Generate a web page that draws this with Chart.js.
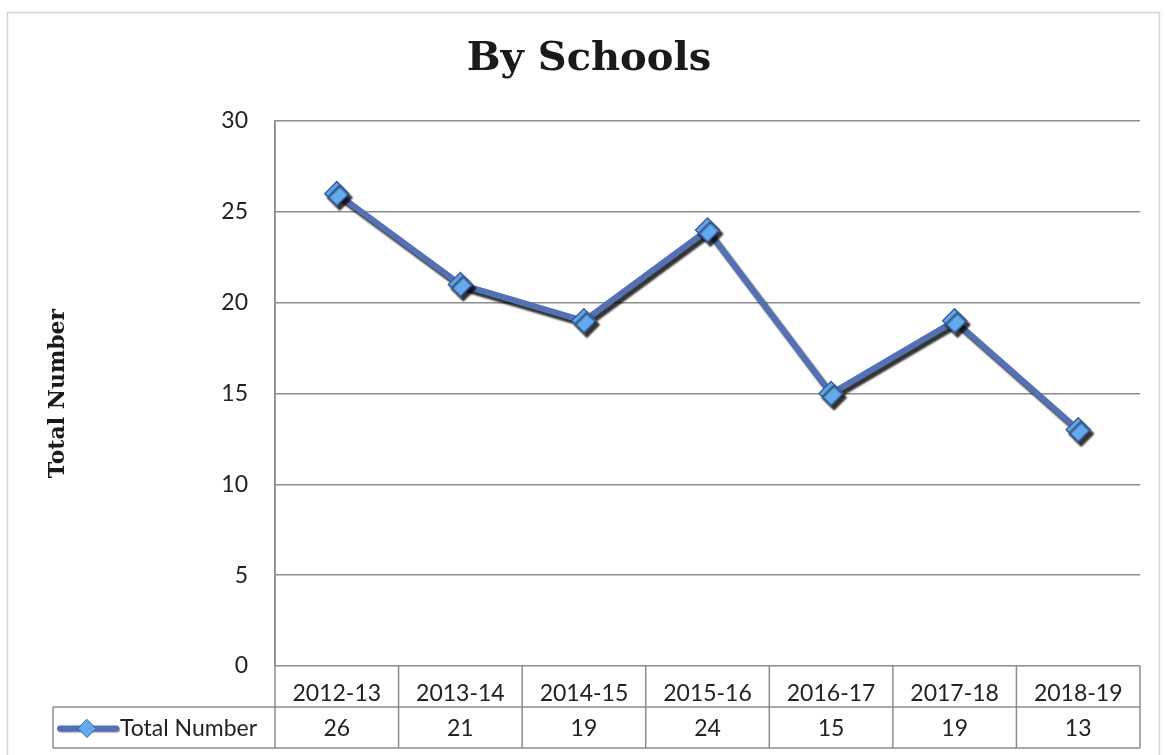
<!DOCTYPE html>
<html>
<head>
<meta charset="utf-8">
<script src="https://cdn.jsdelivr.net/npm/chart.js@4"></script>
<style>
  html, body { margin: 0; padding: 0; background: #ffffff; }
  canvas { display: block; }
</style>
</head>
<body>
<canvas id="c" width="1165" height="755"></canvas>
<script>
const chartTitle = 'By Schools';
const yAxisTitle = 'Total Number';
const seriesName = 'Total Number';
const categories = ['2012-13', '2013-14', '2014-15', '2015-16', '2016-17', '2017-18', '2018-19'];
const totalNumber = [26, 21, 19, 24, 15, 19, 13];
const yMin = 0;
const yMax = 30;
const yStep = 5;

const LINE_COLOR = '#5371B5';
const MARKER_FILL = '#63AAEE';
const MARKER_EDGE = '#3D5C9E';
const GRID_COLOR = '#8c8c8c';
const TEXT_COLOR = '#222222';
const LABEL_FONT = 'Lato, "Liberation Sans", sans-serif';

const shadowPlugin = {
  id: 'shadow',
  beforeDatasetDraw(chart) {
    const ctx = chart.ctx;
    ctx.save();
    ctx.shadowColor = 'rgba(0,0,0,0.8)';
    ctx.shadowOffsetX = 3;
    ctx.shadowOffsetY = 4;
    ctx.shadowBlur = 2;
  },
  afterDatasetDraw(chart) {
    chart.ctx.restore();
  }
};

const framePlugin = {
  id: 'frame',
  beforeDraw(chart) {
    const ctx = chart.ctx;
    ctx.save();
    ctx.fillStyle = '#ffffff';
    ctx.fillRect(0, 0, chart.width, chart.height);
    ctx.strokeStyle = '#d4d4d4';
    ctx.lineWidth = 1.5;
    ctx.strokeRect(7.5, 12.5, chart.width - 13, chart.height + 20);
    ctx.restore();
  }
};

const tablePlugin = {
  id: 'dataTable',
  afterDraw(chart) {
    const ctx = chart.ctx;
    const xs = chart.scales.x;
    const ca = chart.chartArea;
    const n = categories.length;
    const step = xs.getPixelForValue(1) - xs.getPixelForValue(0);
    const top = ca.bottom;
    const mid = xs.bottom;
    const bot = mid + 41;
    const legendLeft = 53;
    ctx.save();
    ctx.strokeStyle = GRID_COLOR;
    ctx.lineWidth = 1.5;
    const line = (x1, y1, x2, y2) => {
      ctx.beginPath(); ctx.moveTo(x1, y1); ctx.lineTo(x2, y2); ctx.stroke();
    };
    line(legendLeft, mid, ca.right, mid);
    line(legendLeft, bot, ca.right, bot);
    line(legendLeft, mid, legendLeft, bot);
    line(ca.left, ca.top, ca.left, bot);
    for (let i = 0; i < n; i++) {
      const x = xs.getPixelForValue(i) + step / 2;
      line(x, top, x, bot);
    }
    // values row
    ctx.fillStyle = TEXT_COLOR;
    ctx.font = '23px ' + LABEL_FONT;
    ctx.textAlign = 'center';
    ctx.textBaseline = 'middle';
    const rowY = (mid + bot) / 2 + 1;
    for (let i = 0; i < n; i++) {
      ctx.fillText(String(totalNumber[i]), xs.getPixelForValue(i), rowY);
    }
    // legend key
    const ly = rowY;
    ctx.shadowColor = 'rgba(0,0,0,0.45)';
    ctx.shadowOffsetX = 1; ctx.shadowOffsetY = 1; ctx.shadowBlur = 1;
    ctx.strokeStyle = LINE_COLOR;
    ctx.lineWidth = 6;
    ctx.lineCap = 'round';
    line(60, ly, 116, ly);
    ctx.shadowColor = 'transparent';
    ctx.beginPath();
    ctx.moveTo(87, ly - 9); ctx.lineTo(96, ly); ctx.lineTo(87, ly + 9); ctx.lineTo(78, ly);
    ctx.closePath();
    ctx.fillStyle = MARKER_FILL; ctx.fill();
    ctx.strokeStyle = MARKER_EDGE; ctx.lineWidth = 1; ctx.stroke();
    ctx.fillStyle = TEXT_COLOR;
    ctx.textAlign = 'left';
    ctx.fillText(seriesName, 120, ly);
    ctx.restore();
  }
};

new Chart(document.getElementById('c'), {
  type: 'line',
  data: {
    labels: categories,
    datasets: [{
      label: seriesName,
      data: totalNumber,
      borderColor: LINE_COLOR,
      borderWidth: 6,
      tension: 0,
      fill: false,
      pointStyle: 'rectRot',
      pointRadius: 12,
      pointHoverRadius: 12,
      pointBackgroundColor: MARKER_FILL,
      pointBorderColor: MARKER_EDGE,
      pointBorderWidth: 1.5
    }]
  },
  options: {
    responsive: false,
    animation: false,
    devicePixelRatio: 1,
    layout: { padding: { top: 12, left: 38, right: 25, bottom: 48 } },
    plugins: {
      legend: { display: false },
      tooltip: { enabled: false },
      title: {
        display: true,
        text: chartTitle,
        color: '#1a1a1a',
        font: { family: '"DejaVu Serif", serif', size: 40, weight: 'bold', lineHeight: 1.2 },
        padding: { top: 24, bottom: 37 }
      }
    },
    scales: {
      x: {
        type: 'category',
        offset: true,
        grid: { display: false },
        border: { display: false },
        ticks: {
          color: TEXT_COLOR,
          font: { family: LABEL_FONT, size: 23 },
          padding: 6,
          maxRotation: 0,
          autoSkip: false
        },
        afterFit(s) { s.height = 41; }
      },
      y: {
        min: yMin,
        max: yMax,
        grid: { color: GRID_COLOR, lineWidth: 1.5, drawTicks: false },
        border: { display: true, color: GRID_COLOR, width: 1.5 },
        ticks: {
          stepSize: yStep,
          color: TEXT_COLOR,
          font: { family: LABEL_FONT, size: 23 },
          padding: 27
        },
        title: {
          display: true,
          text: yAxisTitle,
          color: '#1a1a1a',
          font: { family: '"DejaVu Serif", serif', size: 22, weight: 'bold', lineHeight: 1.2 },
          padding: { top: 7, bottom: 0 }
        },
        afterFit(s) { s.width = 237; }
      }
    }
  },
  plugins: [framePlugin, shadowPlugin, tablePlugin]
});
</script>
</body>
</html>
